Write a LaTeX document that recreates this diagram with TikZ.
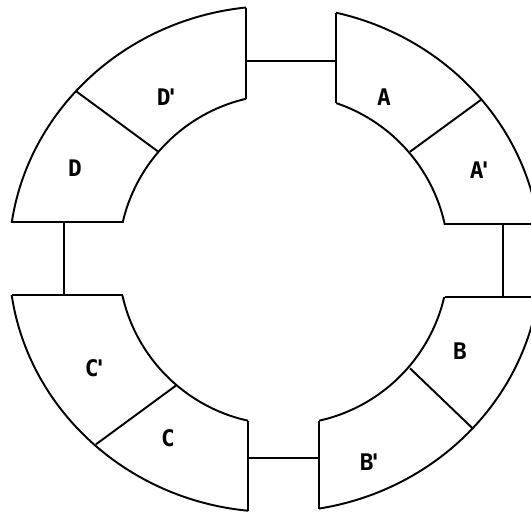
\documentclass[tikz,border=0pt]{standalone}
\usepackage{fontspec}
\setmonofont{DejaVu Sans Mono}
\tikzset{
  ring/.style={line width=1.1pt},
  link/.style={line width=0.9pt},
  seglabel/.style={font=\ttfamily\bfseries\fontsize{13}{13}\selectfont}
}
\newcommand{\pr}{\kern-0.22em'}
\begin{document}
\begin{tikzpicture}[x=0.02cm,y=-0.02cm]
  % Frame of the scan
  \useasboundingbox (0,0) rectangle (531,512);
  \clip (0,0) rectangle (531,512);
  % Ring arcs, kept only inside the four blocks
  \foreach \xa/\ya/\xb/\yb in {0/0/246/222, 336/0/531/224, 319/297/531/512, 0/295/248/512}{
    \begin{scope}
      \clip (\xa,\ya) rectangle (\xb,\yb);
      \draw[ring] (275,259) ellipse[x radius=266, y radius=253];
      \draw[ring] (283.5,259.5) circle[radius=165];
    \end{scope}
  }
  % Block ends
  \coordinate (Dp-o) at (246,7.5);   \coordinate (Dp-i) at (246,98.8);
  \coordinate (A-o)  at (336,12.7);  \coordinate (A-i)  at (336,103.1);
  \coordinate (Ap-o) at (538,224);   \coordinate (Ap-i) at (443.5,224);
  \coordinate (B-o)  at (538,297);   \coordinate (B-i)  at (445,297);
  \coordinate (Bp-o) at (319,508.5); \coordinate (Bp-i) at (319,420.6);
  \coordinate (C-o)  at (248,510.7); \coordinate (C-i)  at (248,420.6);
  \coordinate (Cp-o) at (11.7,295);  \coordinate (Cp-i) at (122.6,295);
  \coordinate (D-o)  at (11.9,222);  \coordinate (D-i)  at (122.4,222);
  \foreach \e in {Dp,A,Ap,B,Bp,C,Cp,D}{
    \draw[ring] (\e-o) -- (\e-i);
  }
  % Dividers inside each block
  \draw[ring] (76.7,91.7) -- (158.3,151.7);  % D | D'
  \draw[ring] (481.7,99.3) -- (410,151.7);   % A | A'
  \draw[ring] (410,368.3) -- (473.3,429);    % B | B'
  \draw[ring] (96,444.3) -- (176.7,385);     % C | C'
  % Links across the gaps
  \coordinate (topL) at (246,61);  \coordinate (topR) at (336,61);
  \coordinate (rgtT) at (503,224); \coordinate (rgtB) at (503,297);
  \coordinate (botL) at (248,458); \coordinate (botR) at (319,458);
  \coordinate (lftT) at (64,222);  \coordinate (lftB) at (64,295);
  \draw[link] (topL) -- (topR);
  \draw[link] (rgtT) -- (rgtB);
  \draw[link] (botL) -- (botR);
  \draw[link] (lftT) -- (lftB);
  % Labels
  \node[seglabel] (lblA)  at (384,97)  {A};
  \node[seglabel] (lblAp) at (481,170) {A\pr};
  \node[seglabel] (lblB)  at (460,351) {B};
  \node[seglabel] (lblBp) at (371,462) {B\pr};
  \node[seglabel] (lblC)  at (168,438) {C};
  \node[seglabel] (lblCp) at (96,368)  {C\pr};
  \node[seglabel] (lblD)  at (75,168)  {D};
  \node[seglabel] (lblDp) at (168,97)  {D\pr};
\end{tikzpicture}
\end{document}
